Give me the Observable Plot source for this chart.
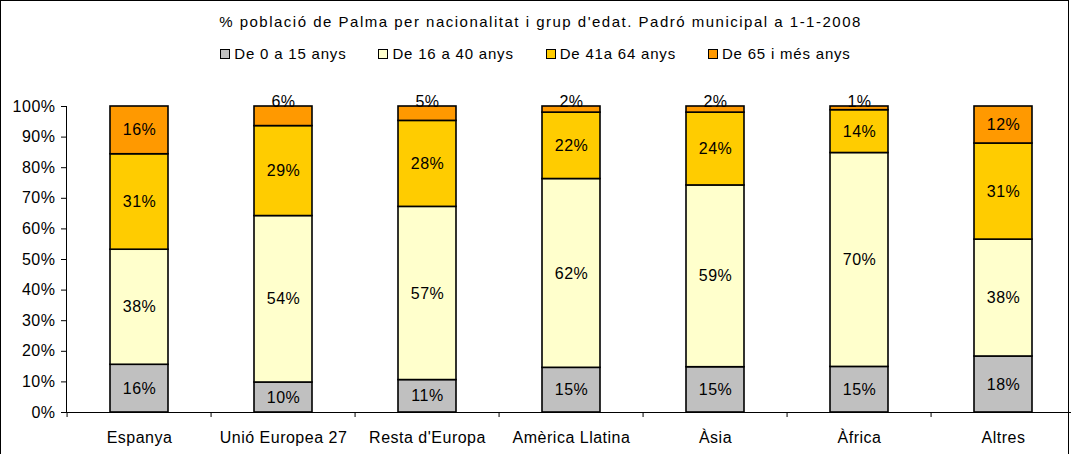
<!DOCTYPE html>
<html>
<head>
<meta charset="utf-8">
<script src="https://cdn.jsdelivr.net/npm/d3@7"></script>
<script src="https://cdn.jsdelivr.net/npm/@observablehq/plot@0.6"></script>
<style>
  html, body { margin: 0; padding: 0; background: #fff; }
  body { width: 1071px; height: 454px; overflow: hidden; position: relative; font-family: "Liberation Sans", Arial, sans-serif; }
  #frame { position: absolute; left: 0; top: 0; width: 1069px; height: 470px; border: 1px solid #000; box-sizing: border-box; }
  #title { position: absolute; left: 0; top: 12px; width: 1081px; text-align: center; font-size: 15px; line-height: 20px; letter-spacing: 1.5px; color: #000; }
  #legend { position: absolute; left: 0; top: 44px; width: 1071px; display: flex; justify-content: center; font-size: 15px; line-height: 20px; letter-spacing: 0.8px; color: #000; padding-left: 0px; box-sizing: border-box; }
  .item { display: flex; align-items: center; margin: 0 16px; }
  .sw { width: 10px; height: 10px; border: 1px solid #000; margin-right: 4px; box-sizing: border-box; }
  #chart { position: absolute; left: 0; top: 70px; }
  #chart svg text { letter-spacing: 0.5px; }
</style>
</head>
<body>
<div id="frame"></div>
<div id="title">% població de Palma per nacionalitat i grup d'edat. Padró municipal a 1-1-2008</div>
<div id="legend"></div>
<div id="chart"></div>
<script>
const categories = ["Espanya", "Unió Europea 27", "Resta d'Europa", "Amèrica Llatina", "Àsia", "Àfrica", "Altres"];
const groups = ["De 0 a 15 anys", "De 16 a 40 anys", "De 41a 64 anys", "De 65 i més anys"];
const age0to15 = [15.6, 9.8, 10.6, 14.6, 14.8, 14.9, 18.3];
const age16to40 = [37.6, 54.4, 56.6, 61.7, 59.4, 69.9, 38.2];
const age41to64 = [31.2, 29.4, 28.1, 21.7, 23.8, 14.0, 31.4];
const age65plus = [15.6, 6.4, 4.7, 2.0, 2.0, 1.2, 12.1];
const yTicks = [0, 10, 20, 30, 40, 50, 60, 70, 80, 90, 100];
const colors = ["#C0C0C0", "#FFFFCC", "#FFCC00", "#FF9900"];

const series = [age0to15, age16to40, age41to64, age65plus];
const data = [];
categories.forEach((c, i) => {
  groups.forEach((g, j) => data.push({cat: c, group: g, value: series[j][i], top: j === groups.length - 1}));
});
const inside = data.filter(d => !(d.top && d.value < 8));
const above = data.filter(d => d.top && d.value < 8);
const label = d => Math.round(d.value) + "%";

// legend
const legend = document.getElementById("legend");
groups.forEach((g, j) => {
  const it = document.createElement("div");
  it.className = "item";
  const sw = document.createElement("div");
  sw.className = "sw";
  sw.style.background = colors[j];
  const t = document.createElement("span");
  t.textContent = g;
  it.appendChild(sw); it.appendChild(t);
  legend.appendChild(it);
});

const W = 1071, H = 384;
const left = 64, right = 1078;
const step = (right - left) / categories.length;

const chart = Plot.plot({
  width: W,
  height: H,
  marginLeft: 66,
  marginRight: 0,
  marginTop: 36,
  marginBottom: 42,
  style: {fontFamily: "'Liberation Sans', Arial, sans-serif", fontSize: "16px", color: "#000", background: "transparent", overflow: "visible"},
  x: {domain: categories, range: [left, right], paddingInner: 0.6, paddingOuter: 0.3, label: null},
  y: {domain: [0, 100], label: null},
  color: {domain: groups, range: colors},
  marks: [
    Plot.barY(data, {x: "cat", y: "value", fill: "group", stroke: "#000", strokeWidth: 1.6, order: groups}),
    Plot.text(inside, Plot.stackY({x: "cat", y: "value", z: "group", order: groups, text: label, fill: "#000", fontSize: 16})),
    Plot.text(above, {x: "cat", y: () => 100, text: label, fill: "#000", fontSize: 16, dy: -5}),
    Plot.frame({anchor: "left", stroke: "#000"}),
    Plot.ruleY([0], {stroke: "#000"}),
    Plot.ruleX(categories, {x: d => d, dx: -step / 2, y1: () => 0, y2: () => 0, insetBottom: -5, stroke: "#000"}),
    Plot.axisY({ticks: yTicks, tickFormat: d => d + "%", tickSize: 5, tickPadding: 6, fontSize: 16, stroke: "#000"}),
    Plot.axisX({tickSize: 0, tickPadding: 19, fontSize: 16})
  ]
});
document.getElementById("chart").appendChild(chart);
</script>
</body>
</html>
